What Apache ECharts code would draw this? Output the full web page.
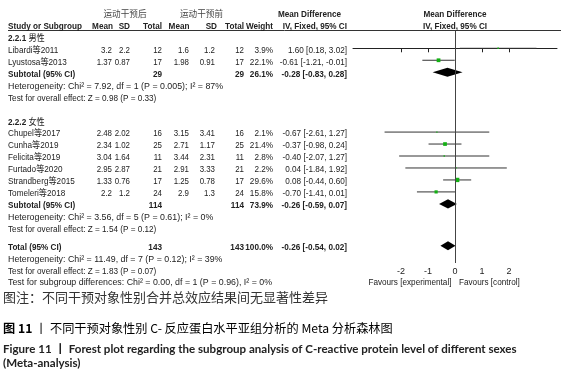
<!DOCTYPE html>
<html>
<head>
<meta charset="utf-8">
<script src="https://cdn.jsdelivr.net/npm/echarts@6.0.0/dist/echarts.min.js"></script>
<style>
html, body { margin: 0; padding: 0; background: #fff; }
#chart { width: 561px; height: 383px; }
</style>
</head>
<body>
<div id="chart"></div>
<script>
// study rows
const studies = ['Libardi等2011', 'Lyustosa等2013', 'Chupel等2017', 'Cunha等2019', 'Felicita等2019', 'Furtado等2020', 'Strandberg等2015', 'Tomeleri等2018']
const studyGroup = [0, 0, 1, 1, 1, 1, 1, 1]
const expMean = [3.2, 1.37, 2.48, 2.34, 3.04, 2.95, 1.33, 2.2]
const expSD = [2.2, 0.87, 2.02, 1.02, 1.64, 2.87, 0.76, 1.2]
const expTotal = [12, 17, 16, 25, 11, 21, 17, 24]
const ctlMean = [1.6, 1.98, 3.15, 2.71, 3.44, 2.91, 1.25, 2.9]
const ctlSD = [1.2, 0.91, 3.41, 1.17, 2.31, 3.33, 0.78, 1.3]
const ctlTotal = [12, 17, 16, 25, 11, 21, 17, 24]
const weight = [3.9, 22.1, 2.1, 21.4, 2.8, 2.2, 29.6, 15.8]
const md = [1.60, -0.61, -0.67, -0.37, -0.40, 0.04, 0.08, -0.70]
const ciLow = [0.18, -1.21, -2.61, -0.98, -2.07, -1.84, -0.44, -1.41]
const ciHigh = [3.02, -0.01, 1.27, 0.24, 1.27, 1.92, 0.60, 0.01]

// subgroups
const groupCodes = ['2.2.1', '2.2.2']
const groupNames = ['男性', '女性']
const subExpTotal = [29, 114]
const subCtlTotal = [29, 114]
const subWeight = [26.1, 73.9]
const subMd = [-0.28, -0.26]
const subLow = [-0.83, -0.59]
const subHigh = [0.28, 0.07]
const subChi = ['7.92', '3.56']
const subDf = [1, 5]
const subP = ['0.005', '0.61']
const subI2 = [87, 0]
const subZ = ['0.98', '1.54']
const subPz = ['0.33', '0.12']

// overall
const totExp = 143, totCtl = 143, totWeight = 100.0
const totMd = -0.26, totLow = -0.54, totHigh = 0.02
const totChi = '11.49', totDf = 7, totP = '0.12', totI2 = 39
const totZ = '1.83', totPz = '0.07'
const diffChi = '0.00', diffDf = 1, diffP = '0.96', diffI2 = 0

const axisTicks = [-2, -1, 0, 1, 2]
const colHeads = ['Mean', 'SD', 'Total', 'Mean', 'SD', 'Total', 'Weight']

// look
const INK = '#222'
const GREEN = '#13b013'
const FONT = '"Liberation Sans", Arial, "Noto Sans CJK SC", sans-serif'
const FS = 9.5
const SX = 0.86
const SXNUM = 0.83
const SXSTAT = 0.93 // the source spreads the statistics lines a little wider
const COL = { left: 8, expMean: 112, expSD: 130, expTotal: 162, ctlMean: 189, ctlSD: 215, ctlTotal: 244, weight: 273, ci: 347 }
const HEADCOL = [113, 130, 162, 189.5, 217, 244, 273]
const TY = 1.8 // text sits a little below the marks

const f2 = v => v.toFixed(2)
const ciText = (m, l, h) => f2(m) + ' [' + f2(l) + ', ' + f2(h) + ']'

// row layout
const rows = [{ row: -3, kind: 'head1' }, { row: -2, kind: 'head2' }]
const forest = []
let r = -1
groupCodes.forEach((code, g) => {
  rows.push({ row: r, kind: 'group', g: g }); r++
  studies.forEach((s, i) => {
    if (studyGroup[i] !== g) return
    rows.push({ row: r, kind: 'study', i: i })
    forest.push([md[i], r, ciLow[i], ciHigh[i], weight[i], 0])
    r++
  })
  rows.push({ row: r, kind: 'subtotal', g: g })
  forest.push([subMd[g], r, subLow[g], subHigh[g], subWeight[g], 1])
  r++
  rows.push({ row: r, kind: 'het', g: g }); r++
  rows.push({ row: r, kind: 'test', g: g }); r++
  r += g < groupCodes.length - 1 ? 1 : 0.5
})
rows.push({ row: r, kind: 'total' })
forest.push([totMd, r, totLow, totHigh, totWeight, 1])
r++
rows.push({ row: r, kind: 'tothet' }); r++
rows.push({ row: r, kind: 'tottest' }); r++
rows.push({ row: r - 0.05, kind: 'diff' })

function t(x, y, s, o) {
  o = o || {}
  return {
    type: 'text', x: x, y: y, scaleX: o.sx || SX,
    style: {
      text: s, align: o.align || 'left', verticalAlign: 'middle',
      fontSize: o.fs || FS, fontFamily: FONT, fontWeight: o.bold ? 'bold' : 'normal',
      fill: o.color || INK, rich: o.rich
    }
  }
}
const num = (x, y, v) => t(x, y, String(v), { align: 'right', sx: SXNUM })

function renderTable(params, api) {
  const item = rows[params.dataIndex]
  const p = api.coord([0, item.row])
  const y = p[1] + TY
  const x0 = p[0]
  const kids = []
  switch (item.kind) {
    case 'head1':
      kids.push(t(125, y, '运动干预后', { align: 'center', color: '#444', sx: 1, fs: 8.6 }))
      kids.push(t(201.5, y, '运动干预前', { align: 'center', color: '#444', sx: 1, fs: 8.6 }))
      kids.push(t(309.5, y, 'Mean Difference', { align: 'center', bold: true }))
      kids.push(t(x0, y, 'Mean Difference', { align: 'center', bold: true }))
      break
    case 'head2':
      kids.push(t(COL.left, y, 'Study or Subgroup', { bold: true }))
      colHeads.forEach((h, k) => kids.push(t(HEADCOL[k], y, h, { align: 'right', bold: true })))
      kids.push(t(COL.ci, y, 'IV, Fixed, 95% CI', { align: 'right', bold: true }))
      kids.push(t(x0, y, 'IV, Fixed, 95% CI', { align: 'center', bold: true }))
      break
    case 'group':
      kids.push(t(COL.left, y, '{b|' + groupCodes[item.g] + '} ' + groupNames[item.g], {
        rich: { b: { fontWeight: 'bold', fontSize: FS, fontFamily: FONT, fill: INK } }
      }))
      break
    case 'study': {
      const i = item.i
      kids.push(t(COL.left, y, studies[i]))
      kids.push(num(COL.expMean, y, expMean[i]))
      kids.push(num(COL.expSD, y, expSD[i]))
      kids.push(num(COL.expTotal, y, expTotal[i]))
      kids.push(num(COL.ctlMean, y, ctlMean[i]))
      kids.push(num(COL.ctlSD, y, ctlSD[i]))
      kids.push(num(COL.ctlTotal, y, ctlTotal[i]))
      kids.push(t(COL.weight, y, weight[i].toFixed(1) + '%', { align: 'right' }))
      kids.push(t(COL.ci, y, ciText(md[i], ciLow[i], ciHigh[i]), { align: 'right' }))
      break
    }
    case 'subtotal': {
      const g = item.g
      kids.push(t(COL.left, y, 'Subtotal (95% CI)', { bold: true }))
      kids.push(t(COL.expTotal, y, String(subExpTotal[g]), { align: 'right', bold: true }))
      kids.push(t(COL.ctlTotal, y, String(subCtlTotal[g]), { align: 'right', bold: true }))
      kids.push(t(COL.weight, y, subWeight[g].toFixed(1) + '%', { align: 'right', bold: true }))
      kids.push(t(COL.ci, y, ciText(subMd[g], subLow[g], subHigh[g]), { align: 'right', bold: true }))
      break
    }
    case 'het':
      kids.push(t(COL.left, y, 'Heterogeneity: Chi² = ' + subChi[item.g] + ', df = ' + subDf[item.g] +
        ' (P = ' + subP[item.g] + '); I² = ' + subI2[item.g] + '%', { sx: SXSTAT }))
      break
    case 'test':
      kids.push(t(COL.left, y, 'Test for overall effect: Z = ' + subZ[item.g] + ' (P = ' + subPz[item.g] + ')'))
      break
    case 'total':
      kids.push(t(COL.left, y, 'Total (95% CI)', { bold: true }))
      kids.push(t(COL.expTotal, y, String(totExp), { align: 'right', bold: true }))
      kids.push(t(COL.ctlTotal, y, String(totCtl), { align: 'right', bold: true }))
      kids.push(t(COL.weight, y, totWeight.toFixed(1) + '%', { align: 'right', bold: true }))
      kids.push(t(COL.ci, y, ciText(totMd, totLow, totHigh), { align: 'right', bold: true }))
      break
    case 'tothet':
      kids.push(t(COL.left, y, 'Heterogeneity: Chi² = ' + totChi + ', df = ' + totDf + ' (P = ' + totP + '); I² = ' + totI2 + '%', { sx: SXSTAT }))
      break
    case 'tottest':
      kids.push(t(COL.left, y, 'Test for overall effect: Z = ' + totZ + ' (P = ' + totPz + ')'))
      break
    case 'diff':
      kids.push(t(COL.left, y, 'Test for subgroup differences: Chi² = ' + diffChi + ', df = ' + diffDf +
        ' (P = ' + diffP + '), I² = ' + diffI2 + '%', { sx: SXSTAT }))
      kids.push(t(x0 - 3.5, y, 'Favours [experimental]', { align: 'right' }))
      kids.push(t(x0 + 4, y, 'Favours [control]'))
      break
  }
  return { type: 'group', children: kids }
}

function renderForest(params, api) {
  const m = api.value(0), row = api.value(1)
  const c = api.coord([m, row])
  const a = api.coord([api.value(2), row])
  const b = api.coord([api.value(3), row])
  if (api.value(5) === 1) {
    const h = 4.6
    return {
      type: 'polygon',
      shape: { points: [[a[0], c[1]], [c[0], c[1] - h], [b[0], c[1]], [c[0], c[1] + h]] },
      style: { fill: '#000' }
    }
  }
  const s = Math.max(1.2, 0.8 * Math.sqrt(api.value(4)))
  return {
    type: 'group',
    children: [
      { type: 'line', shape: { x1: a[0], y1: c[1], x2: b[0], y2: c[1] }, style: { stroke: '#333', lineWidth: 1 } },
      { type: 'rect', shape: { x: c[0] - s / 2, y: c[1] - s / 2, width: s, height: s }, style: { fill: GREEN } }
    ]
  }
}

const chart = echarts.init(document.getElementById('chart'))
chart.setOption({
  animation: false,
  grid: { left: 353, top: 30.7, width: 204, height: 232.3 },
  xAxis: {
    type: 'value', min: -3.78, max: 3.78,
    splitLine: { show: false },
    axisLine: { lineStyle: { color: INK, width: 1 } },
    axisTick: { customValues: axisTicks, length: 4, lineStyle: { color: INK } },
    axisLabel: { customValues: axisTicks, fontSize: 9, color: INK, margin: 4, fontFamily: FONT }
  },
  yAxis: { type: 'value', inverse: true, min: -1.47, max: 17.94, show: false },
  graphic: [
    { type: 'line', shape: { x1: 8, y1: 30.5, x2: 561, y2: 30.5 }, style: { stroke: '#333', lineWidth: 1 } },
    { type: 'text', x: 3, y: 297, style: { text: '图注：不同干预对象性别合并总效应结果间无显著性差异', fontSize: 13, fontFamily: '"Noto Sans CJK SC"', fill: '#333', verticalAlign: 'middle' } },
    {
      type: 'text', x: 3, y: 328,
      style: {
        text: '{b|图 11} 丨 不同干预对象性别 C- 反应蛋白水平亚组分析的 Meta 分析森林图',
        fontSize: 12.2, fontFamily: '"Noto Sans CJK SC"', fill: '#000', verticalAlign: 'middle',
        rich: { b: { fontSize: 12.2, fontFamily: '"Noto Sans CJK SC"', fontWeight: 'bold', fill: '#000' } }
      }
    },
    { type: 'text', x: 3, y: 349, style: { text: 'Figure 11 丨 Forest plot regarding the subgroup analysis of C-reactive protein level of different sexes', fontSize: 11.55, fontFamily: 'Lato, "Noto Sans CJK SC"', fontWeight: 'bold', fill: '#222', verticalAlign: 'middle' } },
    { type: 'text', x: 3, y: 363, style: { text: '(Meta-analysis)', fontSize: 11.55, fontFamily: 'Lato', fontWeight: 'bold', fill: '#222', verticalAlign: 'middle' } }
  ],
  series: [
    {
      type: 'custom', name: 'table', silent: true,
      data: rows.map(d => [0, d.row]),
      renderItem: renderTable
    },
    {
      type: 'custom', name: 'forest', silent: true,
      data: forest,
      renderItem: renderForest,
      markLine: {
        silent: true, symbol: ['none', 'none'], label: { show: false },
        lineStyle: { color: '#444', width: 1, type: 'solid' },
        data: [{ xAxis: 0 }]
      }
    }
  ]
})
</script>
</body>
</html>
